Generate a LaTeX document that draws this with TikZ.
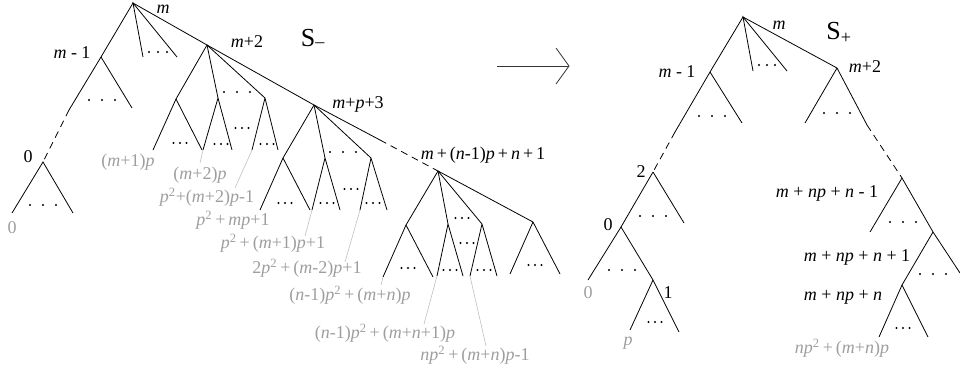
\documentclass[tikz,border=0pt]{standalone}
\usepackage{fontspec}
\setmainfont{Liberation Serif}
\newcommand\myv[1]{\textit{#1}}
\newcommand\sqd{\textsuperscript{2}}
\begin{document}
\begin{tikzpicture}[x=1pt,y=-1pt,
  treeline/.style={line width=0.8pt},
  dashline/.style={line width=0.8pt, dash pattern=on 7pt off 5pt},
  leader/.style={draw=black!25, line width=0.6pt},
  lbl/.style={font=\fontsize{18}{20}\selectfont, inner sep=0pt},
  glbl/.style={lbl, text=black!38},
  biglbl/.style={font=\fontsize{26}{28}\selectfont, inner sep=0pt},
  pics/tridots/.style={code={\fill (-#1,0) circle (1.1pt) (0,0) circle (1.1pt) (#1,0) circle (1.1pt);}}]
\useasboundingbox (0,0) rectangle (960,381);

% ---------- left tree S- ----------
\coordinate (R) at (133,3);
\coordinate (Mm) at (101,57);
\coordinate (Ms) at (69,110);
\coordinate (Z) at (43,162);
\coordinate (Mr) at (132,108);
\coordinate (Rc1) at (143,57);
\coordinate (Rc2) at (177,57);
\coordinate (M2) at (207,45);
\coordinate (A) at (176,99);  \coordinate (Al) at (153,150); \coordinate (Ar) at (202,150);
\coordinate (B) at (218,98);  \coordinate (Bl) at (203,150); \coordinate (Br) at (232,150);
\coordinate (C) at (265,98);  \coordinate (Cl) at (252,150); \coordinate (Cr) at (278,150);
\coordinate (P3) at (314,105);
\coordinate (D) at (283,158); \coordinate (Dl) at (260,210); \coordinate (Dr) at (310,210);
\coordinate (E) at (325,158); \coordinate (El) at (312,210); \coordinate (Er) at (340,210);
\coordinate (F) at (371,158); \coordinate (Fl) at (360,210); \coordinate (Fr) at (387,210);
\coordinate (Ls) at (380,140);
\coordinate (N) at (438,171);
\coordinate (G1) at (406,225); \coordinate (G1l) at (383,277); \coordinate (G1r) at (433,277);
\coordinate (G2) at (448,224); \coordinate (G2l) at (437,276); \coordinate (G2r) at (463,276);
\coordinate (G3) at (482,224); \coordinate (G3l) at (470,276); \coordinate (G3r) at (497,276);
\coordinate (G4) at (533,222); \coordinate (G4l) at (510,274); \coordinate (G4r) at (560,274);
\coordinate (Zl) at (12,213); \coordinate (Zr) at (73,213);

\draw[treeline] (Ms) -- (Mm) -- (R) -- (M2) -- (P3) -- (Ls);
\draw[dashline] (Ms) -- (Z);
\draw[dashline] (Ls) -- (N);
\draw[treeline] (Mm) -- (Mr);
\draw[treeline] (Rc1) -- (R) -- (Rc2);
\draw[treeline] (M2) -- (A) -- (Al) (A) -- (Ar);
\draw[treeline] (M2) -- (B) -- (Br) (B) -- (Bl);
\draw[treeline] (M2) -- (C) -- (Cr) (C) -- (Cl);
\draw[treeline] (P3) -- (D) -- (Dl) (D) -- (Dr);
\draw[treeline] (P3) -- (E) -- (Er) (E) -- (El);
\draw[treeline] (P3) -- (F) -- (Fr) (F) -- (Fl);
\draw[treeline] (N) -- (G1) -- (G1l) (G1) -- (G1r);
\draw[treeline] (N) -- (G2) -- (G2r) (G2) -- (G2l);
\draw[treeline] (N) -- (G3) -- (G3r) (G3) -- (G3l);
\draw[treeline] (N) -- (G4) -- (G4r) (G4) -- (G4l);
\draw[treeline] (Zl) -- (Z) -- (Zr);

\pic at (158,52) {tridots=9};
\pic at (102,100) {tridots=13};
\pic at (43,205) {tridots=13};
\pic at (180,143) {tridots=6.5};
\pic at (221,144) {tridots=6.5};
\pic at (267,144) {tridots=6.5};
\pic at (237,92) {tridots=13};
\pic at (242,128) {tridots=6.5};
\pic at (285,203) {tridots=6.5};
\pic at (327,203) {tridots=6.5};
\pic at (373,203) {tridots=6.5};
\pic at (343,152) {tridots=13};
\pic at (351,189) {tridots=6.5};
\pic at (408,268) {tridots=6.5};
\pic at (450,270) {tridots=6.5};
\pic at (484,270) {tridots=6.5};
\pic at (535,265) {tridots=6.5};
\pic at (462,218) {tridots=6.5};
\pic at (467,243) {tridots=6.5};

% leader lines
\coordinate (ld1) at (200,163);
\coordinate (ld2) at (235,188);
\coordinate (ld3) at (305,236);
\coordinate (ld4) at (345,262);
\coordinate (ld5) at (381,285);
\coordinate (ld6) at (424,324);
\coordinate (ld7) at (486,346);
\draw[leader] (Bl) -- (ld1);
\draw[leader] (Cl) -- (ld2);
\draw[leader] (El) -- (ld3);
\draw[leader] (Fl) -- (ld4);
\draw[leader] (G1l) -- (ld5);
\draw[leader] (G2l) -- (ld6);
\draw[leader] (G3l) -- (ld7);

% labels left
\node[lbl] (lm) at (163,9) {\myv{m}};
\node[lbl] (lmm1) at (72,53) {\myv{m} - 1};
\node[lbl] (l0) at (28,157) {0};
\node[lbl] (lm2) at (247,42) {\myv{m}+2};
\node[biglbl] (lS1) at (313,40) {S\textsubscript{\raisebox{0.4ex}{–}}};
\node[lbl] (lmp3) at (358,104) {\myv{m}+\myv{p}+3};
\node[lbl] (lmn) at (483,155) {\myv{m}\,+\,(\myv{n}-1)\myv{p}\,+\,\myv{n}\,+\,1};

\node[glbl] (g0) at (12,228) {0};
\node[glbl] (g1) at (128,162) {(\myv{m}+1)\myv{p}};
\node[glbl] (g2) at (200,175) {(\myv{m}+2)\myv{p}};
\node[glbl] (g3) at (207,197) {\myv{p}\sqd+(\myv{m}+2)\myv{p}-1};
\node[glbl] (g4) at (233,220) {\myv{p}\sqd\,+\,\myv{mp}+1};
\node[glbl] (g5) at (273,243) {\myv{p}\sqd\,+\,(\myv{m}+1)\myv{p}+1};
\node[glbl] (g6) at (307,268) {2\myv{p}\sqd\,+\,(\myv{m}-2)\myv{p}+1};
\node[glbl] (g7) at (350,295) {(\myv{n}-1)\myv{p}\sqd\,+\,(\myv{m}+\myv{n})\myv{p}};
\node[glbl] (g8) at (385,333) {(\myv{n}-1)\myv{p}\sqd\,+\,(\myv{m}+\myv{n}+1)\myv{p}};
\node[glbl] (g9) at (475,355) {\myv{np}\sqd\,+\,(\myv{m}+\myv{n})\myv{p}-1};

% ---------- arrow ----------
\coordinate (arS) at (497,66);
\coordinate (arE) at (569,66);
\draw[line width=0.8pt, black!80] (arS) -- (arE);
\draw[line width=0.8pt, black!80] (arE) ++(-13,-18) -- (arE) -- ++(-13,18);

% ---------- right tree S+ ----------
\coordinate (R2) at (743,17);
\coordinate (Q1) at (710,72);
\coordinate (Q1s) at (675,132);
\coordinate (T2) at (653,172);
\coordinate (Q1r) at (742,123);
\coordinate (Rc3) at (753,71);
\coordinate (Rc4) at (787,71);
\coordinate (Q2) at (837,68);
\coordinate (Q2l) at (805,123);
\coordinate (Q2s) at (867,125);
\coordinate (X) at (902,178);
\coordinate (T0) at (621,227);
\coordinate (T0l) at (588,280);
\coordinate (T2r) at (684,223);
\coordinate (T1) at (653,280);
\coordinate (T1r) at (679,332);
\coordinate (T1l) at (630,330);
\coordinate (Xl) at (870,232);
\coordinate (Y) at (933,232);
\coordinate (Yr) at (960,273);
\coordinate (Z2) at (902,285);
\coordinate (Z2l) at (879,337);
\coordinate (Z2r) at (928,337);

\draw[treeline] (Q1s) -- (Q1) -- (R2) -- (Q2) -- (Q2s);
\draw[dashline] (Q1s) -- (T2);
\draw[dashline] (Q2s) -- (X);
\draw[treeline] (Q1) -- (Q1r);
\draw[treeline] (Rc3) -- (R2) -- (Rc4);
\draw[treeline] (Q2) -- (Q2l);
\draw[treeline] (T2) -- (T0) -- (T0l) (T2) -- (T2r);
\draw[treeline] (T0) -- (T1) -- (T1r) (T1) -- (T1l);
\draw[treeline] (X) -- (Xl) (X) -- (Y) -- (Yr);
\draw[treeline] (Y) -- (Z2) -- (Z2l) (Z2) -- (Z2r);

\pic at (767,65) {tridots=8};
\pic at (712,116) {tridots=13};
\pic at (837,113) {tridots=13};
\pic at (653,216) {tridots=13};
\pic at (622,270) {tridots=13};
\pic at (655,322) {tridots=6.5};
\pic at (903,222) {tridots=13};
\pic at (933,274) {tridots=13};
\pic at (903,328) {tridots=6.5};

\node[lbl] (rm) at (779,25) {\myv{m}};
\node[biglbl] (rS) at (839,33) {S\textsubscript{+}};
\node[lbl] (rmm1) at (677,72) {\myv{m} - 1};
\node[lbl] (rm2) at (865,67) {\myv{m}+2};
\node[lbl] (r2) at (641,172) {2};
\node[lbl] (r0) at (608,225) {0};
\node[lbl] (r1) at (668,293) {1};
\node[glbl] (rg0) at (588,293) {0};
\node[glbl] (rgp) at (628,343) {\myv{p}};
\node[lbl] (rx) at (827,193) {\myv{m} + \myv{np} + \myv{n} - 1};
\node[lbl] (ry) at (857,257) {\myv{m} + \myv{np} + \myv{n} + 1};
\node[lbl] (rz) at (843,297) {\myv{m} + \myv{np} + \myv{n}};
\node[glbl] (rg) at (842,348) {\myv{np}\sqd\,+\,(\myv{m}+\myv{n})\myv{p}};
\end{tikzpicture}
\end{document}
